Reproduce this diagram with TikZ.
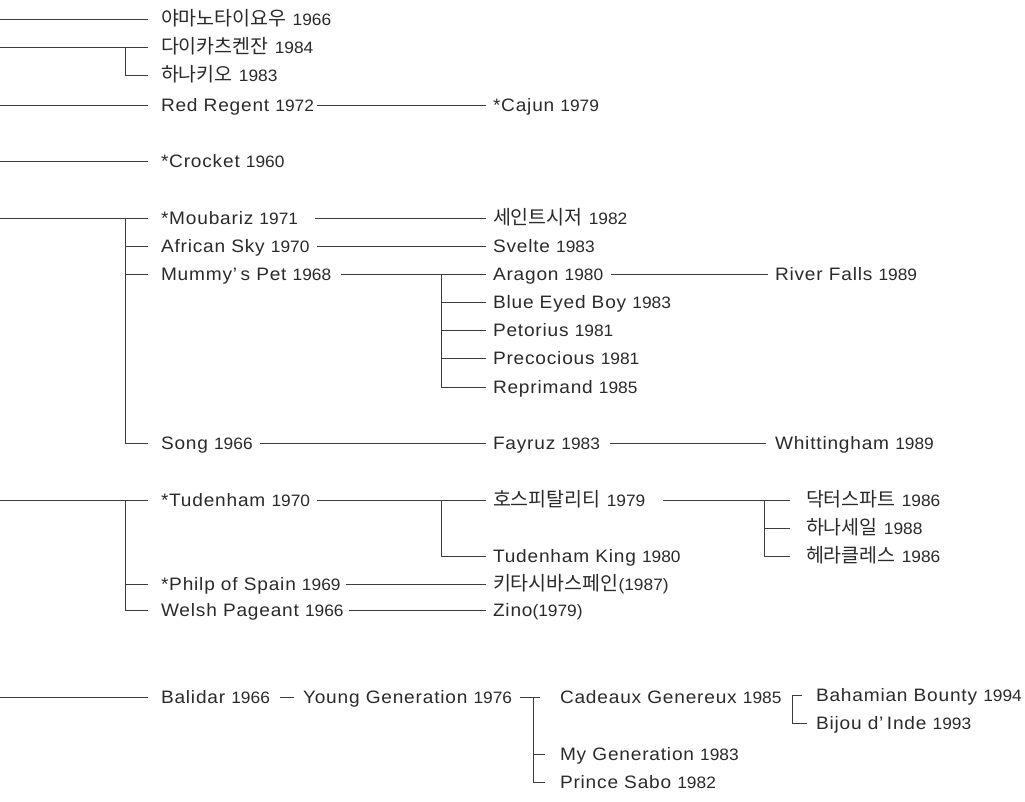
\documentclass[tikz,border=0pt]{standalone}
\usepackage{fontspec}
\setmainfont{Liberation Sans}
\newfontfamily\nmfont{Liberation Sans}[LetterSpace=4.5,FakeStretch=1.06]
\newfontfamily\krfont{Noto Sans CJK KR}
\newfontfamily\yrfont{Liberation Sans}[FakeStretch=1.05]
\newcommand\yy[1]{{\yrfont\fontsize{16.5}{18}\selectfont #1}}
\newcommand\kk[1]{{\krfont\fontsize{19.5}{20}\selectfont #1}}
\newcommand\apo{’\hspace{3.5pt}}
\definecolor{txt}{HTML}{2A2A2A}
\definecolor{lnc}{HTML}{3C3C3C}
\tikzset{
  nm/.style={anchor=west, inner sep=0pt, outer sep=0pt, text=txt,
    text height=12pt, text depth=0pt, font=\nmfont\fontsize{18}{20}\selectfont},
  ln/.style={draw=lnc, line width=1pt}
}
\begin{document}
\begin{tikzpicture}[x=1pt,y=-1pt]
\useasboundingbox (0,0) rectangle (1025,801);
% level 1
\node[nm] (a1) at (161,19) {\kk{야마노타이요우} \yy{1966}};
\node[nm] (a2) at (161,47) {\kk{다이카츠켄잔} \yy{1984}};
\node[nm] (a3) at (161,75) {\kk{하나키오} \yy{1983}};
\node[nm] (a4) at (161,105) {Red Regent \yy{1972}};
\node[nm] (a5) at (161,161) {*Crocket \yy{1960}};
\node[nm] (a6) at (161,218) {*Moubariz \yy{1971}};
\node[nm] (a7) at (161,246) {African Sky \yy{1970}};
\node[nm] (a8) at (161,274) {Mummy\apo s Pet \yy{1968}};
\node[nm] (a9) at (161,443) {Song \yy{1966}};
\node[nm] (a10) at (161,500) {*Tudenham \yy{1970}};
\node[nm] (a11) at (161,584) {*Philp of Spain \yy{1969}};
\node[nm] (a12) at (161,610) {Welsh Pageant \yy{1966}};
\node[nm] (a13) at (161,697) {Balidar \yy{1966}};
\node[nm] (a14) at (303,697) {Young Generation \yy{1976}};
% level 2
\node[nm] (b4) at (493,105) {*Cajun \yy{1979}};
\node[nm] (b6) at (493,218) {\kk{세인트시저} \yy{1982}};
\node[nm] (b7) at (493,246) {Svelte \yy{1983}};
\node[nm] (b8) at (493,274) {Aragon \yy{1980}};
\node[nm] (b9) at (493,302) {Blue Eyed Boy \yy{1983}};
\node[nm] (b10) at (493,330) {Petorius \yy{1981}};
\node[nm] (b11) at (493,358) {Precocious \yy{1981}};
\node[nm] (b12) at (493,387) {Reprimand \yy{1985}};
\node[nm] (b13) at (493,443) {Fayruz \yy{1983}};
\node[nm] (b14) at (493,500) {\kk{호스피탈리티} \yy{1979}};
\node[nm] (b15) at (493,556) {Tudenham King \yy{1980}};
\node[nm] (b16) at (493,584) {\kk{키타시바스페인}\yy{(1987)}};
\node[nm] (b17) at (493,610) {Zino\yy{(1979)}};
\node[nm] (b18) at (560,697) {Cadeaux Genereux \yy{1985}};
\node[nm] (b19) at (560,754) {My Generation \yy{1983}};
\node[nm] (b20) at (560,782) {Prince Sabo \yy{1982}};
% level 3
\node[nm] (c8) at (775,274) {River Falls \yy{1989}};
\node[nm] (c13) at (775,443) {Whittingham \yy{1989}};
\node[nm] (c14) at (806,500) {\kk{닥터스파트} \yy{1986}};
\node[nm] (c15) at (806,528) {\kk{하나세일} \yy{1988}};
\node[nm] (c16) at (806,556) {\kk{헤라클레스} \yy{1986}};
\node[nm] (c17) at (816,695) {Bahamian Bounty \yy{1994}};
\node[nm] (c18) at (816,723) {Bijou d\apo Inde \yy{1993}};
% left free ends
\coordinate (r1) at (0,19);
\coordinate (r2) at (0,47);
\coordinate (r4) at (0,105);
\coordinate (r5) at (0,161);
\coordinate (r6) at (0,218);
\coordinate (r10) at (0,500);
\coordinate (r13) at (0,697);
% connectors
\draw[ln] (r1) -- ([xshift=-13]a1.west);
\draw[ln] (r2) -- ([xshift=-13]a2.west);
\draw[ln] ([xshift=-36]a2.west) |- ([xshift=-13]a3.west);
\draw[ln] (r4) -- ([xshift=-13]a4.west);
\draw[ln] ([xshift=3]a4.east) -- ([xshift=-7]b4.west);
\draw[ln] (r5) -- ([xshift=-13]a5.west);
\draw[ln] (r6) -- ([xshift=-13]a6.west);
\draw[ln] ([xshift=-36]a6.west) |- ([xshift=-13]a9.west);
\draw[ln] ([xshift=-36]a7.west) -- ([xshift=-13]a7.west);
\draw[ln] ([xshift=-36]a8.west) -- ([xshift=-13]a8.west);
\draw[ln] ([xshift=17]a6.east) -- ([xshift=-7]b6.west);
\draw[ln] ([xshift=8]a7.east) -- ([xshift=-7]b7.west);
\draw[ln] ([xshift=10]a8.east) -- ([xshift=-7]b8.west);
\draw[ln] ([xshift=-52]b8.west) |- ([xshift=-7]b12.west);
\draw[ln] ([xshift=-52]b9.west) -- ([xshift=-7]b9.west);
\draw[ln] ([xshift=-52]b10.west) -- ([xshift=-7]b10.west);
\draw[ln] ([xshift=-52]b11.west) -- ([xshift=-7]b11.west);
\draw[ln] ([xshift=8]b8.east) -- ([xshift=-7]c8.west);
\draw[ln] ([xshift=7]a9.east) -- ([xshift=-7]b13.west);
\draw[ln] ([xshift=10]b13.east) -- ([xshift=-9]c13.west);
\draw[ln] (r10) -- ([xshift=-13]a10.west);
\draw[ln] ([xshift=-36]a10.west) |- ([xshift=-13]a12.west);
\draw[ln] ([xshift=-36]a11.west) -- ([xshift=-13]a11.west);
\draw[ln] ([xshift=7]a10.east) -- ([xshift=-7]b14.west);
\draw[ln] ([xshift=-52]b14.west) |- ([xshift=-7]b15.west);
\draw[ln] ([xshift=5]a11.east) -- ([xshift=-7]b16.west);
\draw[ln] ([xshift=5]a12.east) -- ([xshift=-7]b17.west);
\draw[ln] ([xshift=18]b14.east) -- ([xshift=-16]c14.west);
\draw[ln] ([xshift=-42]c14.west) |- ([xshift=-16]c16.west);
\draw[ln] ([xshift=-42]c15.west) -- ([xshift=-16]c15.west);
\draw[ln] (r13) -- ([xshift=-13]a13.west);
\draw[ln] ([xshift=10]a13.east) -- ([xshift=-9]a14.west);
\draw[ln] ([xshift=8]a14.east) -- ([xshift=-20]b18.west);
\draw[ln] ([xshift=-27]b18.west) |- ([xshift=-15]b20.west);
\draw[ln] ([xshift=-27]b19.west) -- ([xshift=-15]b19.west);
\draw[ln] ([xshift=-14]c17.west) -- ([xshift=-24]c17.west) |- ([xshift=-9]c18.west);
\end{tikzpicture}
\end{document}
